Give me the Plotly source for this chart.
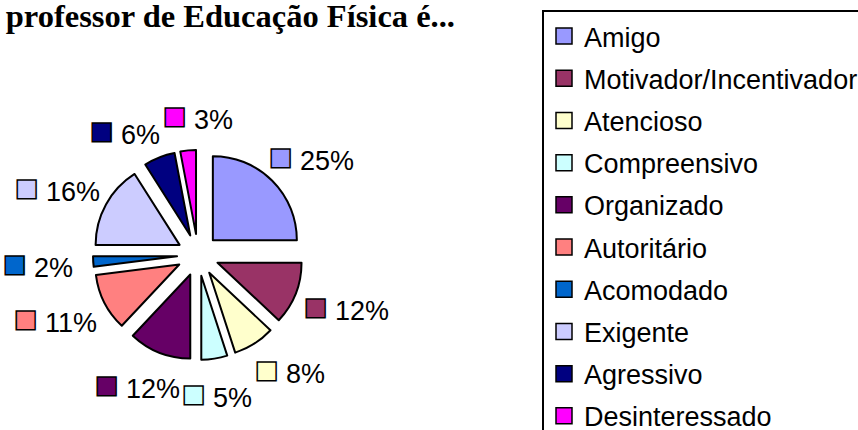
import math
import plotly.graph_objects as go

categories = ["Amigo", "Motivador/Incentivador", "Atencioso", "Compreensivo", "Organizado",
              "Autoritário", "Acomodado", "Exigente", "Agressivo", "Desinteressado"]
values = [25, 12, 8, 5, 12, 11, 2, 16, 6, 3]
colors = ["#9999FF", "#993366", "#FFFFCC", "#CCFFFF", "#660066",
          "#FF8080", "#0066CC", "#CCCCFF", "#000080", "#FF00FF"]
title_text = "professor de Educação Física é..."

W, H = 858, 430
dom_x = [93 / W, 303 / W]
dom_y = [(H - 360) / H, (H - 150) / H]

fig = go.Figure()
fig.add_trace(go.Pie(
    labels=categories,
    values=values,
    sort=False,
    direction="clockwise",
    rotation=0,
    pull=[0.25] * len(values),
    marker=dict(colors=colors, line=dict(color="#000000", width=2)),
    textinfo="none",
    showlegend=False,
    domain=dict(x=dom_x, y=dom_y),
    hoverinfo="label+percent",
))

# data labels (legend key + percent), placed around the pie from each slice's mid-angle
total = sum(values)
cx = (dom_x[0] + dom_x[1]) / 2 * W
cy = (1 - (dom_y[0] + dom_y[1]) / 2) * H
label_rx, label_ry = 160, 140
texts = ["%.0f%%" % (v / total * 100) for v in values]
angles = []
cum = 0
for v in values:
    angles.append((cum + v / 2) / total * 360)
    cum += v

def box(i, a):
    w = len(texts[i]) * 15 + 42
    x = cx + label_rx * math.sin(math.radians(a))
    y = cy - label_ry * math.cos(math.radians(a))
    return x, y, w, 30

for _ in range(300):
    moved = False
    for i in range(len(values)):
        for j in range(i + 1, len(values)):
            xi, yi, wi, hi = box(i, angles[i])
            xj, yj, wj, hj = box(j, angles[j])
            if abs(xi - xj) < (wi + wj) / 2 and abs(yi - yj) < (hi + hj) / 2:
                angles[i] -= 0.5
                angles[j] += 0.5
                moved = True
    if not moved:
        break

for i, c in enumerate(colors):
    x, y, _, _ = box(i, angles[i])
    fig.add_annotation(
        x=x / W, y=1 - y / H, xref="paper", yref="paper", showarrow=False,
        xanchor="center", yanchor="middle",
        text="<span style='color:%s;stroke:#000000;stroke-width:1.5px;font-size:39px'>■</span> %s"
             % (c, texts[i]),
        font=dict(family="Liberation Sans", size=27, color="#000000"),
    )

for name, c in zip(categories, colors):
    fig.add_trace(go.Scatter(
        x=[None], y=[None], mode="markers", name=name, legendgroup=name,
        marker=dict(symbol="square", size=16, color=c, line=dict(color="#000000", width=1.5)),
        showlegend=True,
    ))

fig.update_layout(
    width=W, height=H,
    margin=dict(l=0, r=0, t=0, b=0, autoexpand=False),
    paper_bgcolor="white", plot_bgcolor="white",
    xaxis=dict(visible=False), yaxis=dict(visible=False),
    title=dict(text="<b>" + title_text + "</b>", x=455 / W, xref="container", xanchor="right",
               y=1 - 16 / H, yref="container", yanchor="middle",
               font=dict(family="Liberation Serif", size=32.5, color="#000000")),
    legend=dict(x=542 / W, y=1 - 10 / H, xanchor="left", yanchor="top",
                bordercolor="#000000", borderwidth=2, bgcolor="white",
                font=dict(family="Liberation Sans", size=27, color="#000000"),
                tracegroupgap=4.1, itemwidth=30),
)

fig.write_html("out.html")
